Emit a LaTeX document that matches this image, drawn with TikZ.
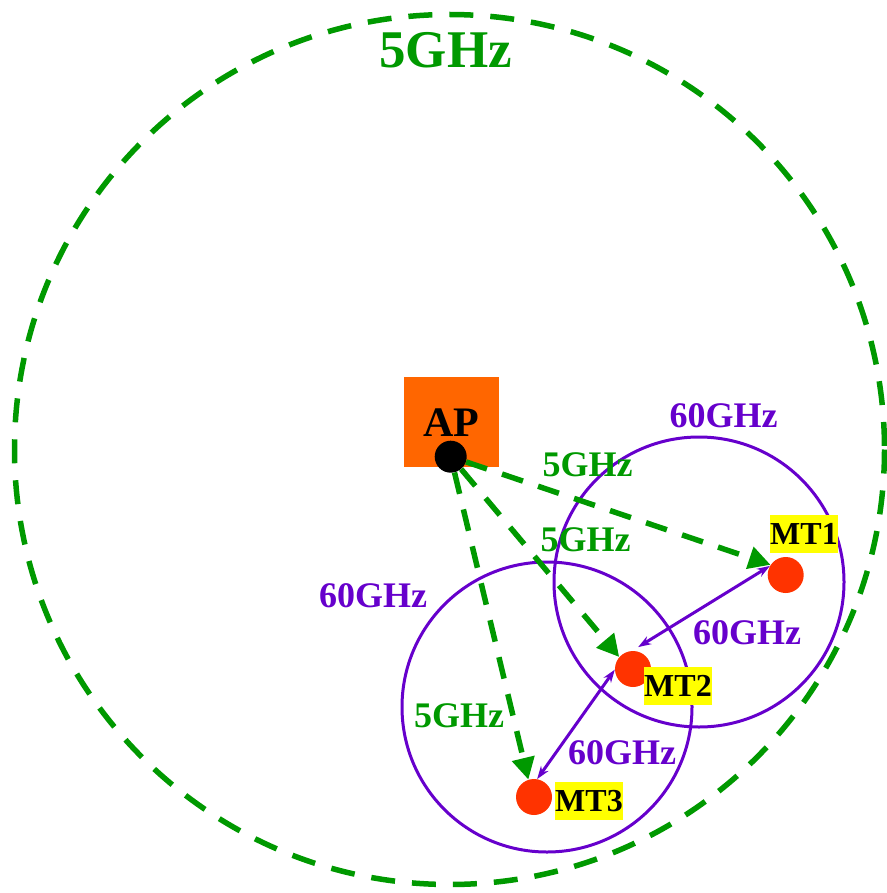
\documentclass[tikz,border=0pt]{standalone}
\usepackage{fontspec}
\setmainfont{Liberation Serif}
\usetikzlibrary{arrows.meta,calc}

\definecolor{wgreen}{HTML}{009900}
\definecolor{wpurple}{HTML}{6600CC}
\definecolor{aporange}{HTML}{FF6600}
\definecolor{mtred}{HTML}{FF3300}
\definecolor{tagyellow}{HTML}{FFFF00}

\tikzset{
  x=1pt, y=-1pt,
  bigtxt/.style={font=\fontsize{53}{60}\selectfont\bfseries, inner sep=0pt},
  freqtxt/.style={font=\fontsize{36}{42}\selectfont\bfseries, inner sep=0pt},
  band5/.style={freqtxt, text=wgreen},
  band60/.style={freqtxt, text=wpurple},
  cell5/.style={draw=wgreen, line width=5.5pt, dash pattern=on 24pt off 17pt},
  cell60/.style={draw=wpurple, line width=3pt},
  link5/.style={draw=wgreen, line width=5.5pt, dash pattern=on 22pt off 16pt,
    -{Triangle[length=22pt,width=22pt]}},
  link60/.style={draw=wpurple, line width=3pt,
    {Stealth[length=13pt,width=9pt]}-{Stealth[length=13pt,width=9pt]}},
  terminal/.style={circle, fill=mtred, minimum size=36pt, inner sep=0pt},
  mttag/.style={fill=tagyellow, font=\fontsize{32}{38}\selectfont\bfseries,
    inner sep=0pt, minimum width=68pt, minimum height=38pt},
}

\begin{document}
\begin{tikzpicture}
  \useasboundingbox (0,0) rectangle (886,893);

  % coverage areas
  \draw[cell5] (449.5,449.5) circle (435);
  \node[bigtxt, text=wgreen] (title) at (445.5,50) {5GHz};
  \draw[cell60] (699,582) circle (145);
  \draw[cell60] (547,707) circle (145);

  % access point
  \node[fill=aporange, minimum width=95pt, minimum height=90pt, inner sep=0pt] (apbox) at (451.5,422) {};
  \node[font=\fontsize{42}{48}\selectfont\bfseries, inner sep=0pt] (aplabel) at (451,422.5) {AP};
  \node[circle, fill=black, minimum size=32pt, inner sep=0pt] (ap) at (450.7,456.7) {};

  % mobile terminals
  \node[terminal] (mt1) at (785.7,575) {};
  \node[terminal] (mt2) at (633,669) {};
  \node[terminal] (mt3) at (534,797) {};
  \node[mttag] (tag1) at (804,534) {MT1};
  \node[mttag] (tag2) at (678,686) {MT2};
  \node[mttag] (tag3) at (589,801) {MT3};

  % 5 GHz links from the AP
  \draw[link5] (ap) -- (mt1.146);
  \draw[link5] (ap) -- (mt2.139);
  \draw[link5] (ap) -- (mt3.108);

  % 60 GHz relay links
  \draw[link60] (mt1.150) -- ($(mt2.80)+(2,-4)$);
  \draw[link60] (mt2.182) -- (mt3.80);

  % band labels
  \node[band60] (l60a) at (723.5,416) {60GHz};
  \node[band5]  (l5a)  at (587.5,464.5) {5GHz};
  \node[band5]  (l5b)  at (585.5,539.5) {5GHz};
  \node[band60] (l60b) at (373,596) {60GHz};
  \node[band60] (l60c) at (747,633) {60GHz};
  \node[band5]  (l5c)  at (459,715.5) {5GHz};
  \node[band60] (l60d) at (622,753) {60GHz};
\end{tikzpicture}
\end{document}
